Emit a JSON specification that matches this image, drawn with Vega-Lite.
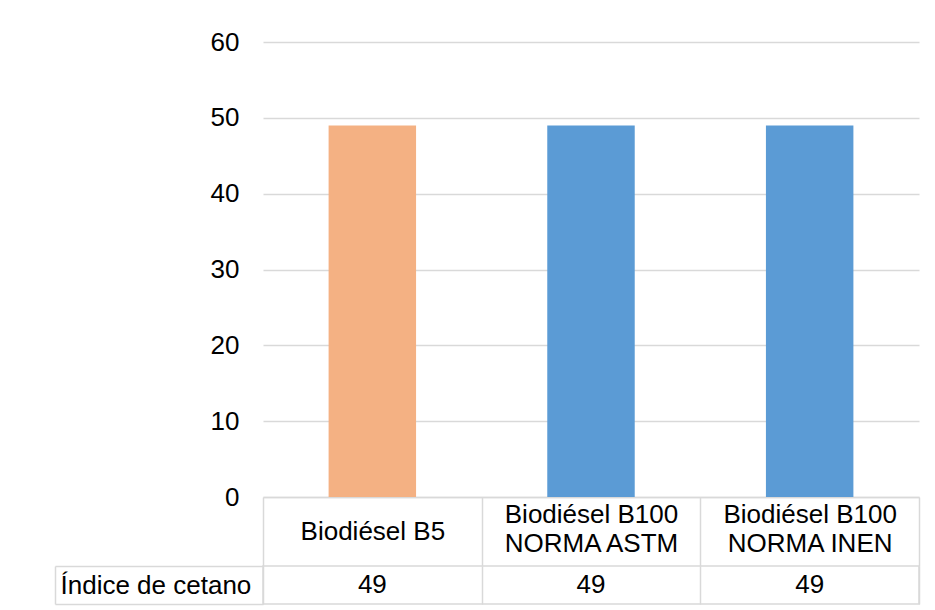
{
  "$schema": "https://vega.github.io/schema/vega-lite/v6.json",
  "background": "white",
  "padding": {"left": 53, "top": 29, "right": 5, "bottom": 5},
  "config": {"font": "Liberation Sans"},
  "datasets": {
    "d": [
      {"categoria": "Biodiésel B5", "serie": "Índice de cetano", "valor": 49, "grupo": "B5"},
      {"categoria": "Biodiésel B100|NORMA ASTM", "serie": "Índice de cetano", "valor": 49, "grupo": "B100"},
      {"categoria": "Biodiésel B100|NORMA INEN", "serie": "Índice de cetano", "valor": 49, "grupo": "B100"}
    ]
  },
  "bounds": "flush",
  "spacing": 69,
  "vconcat": [
    {
      "width": 656,
      "height": 455,
      "view": {"stroke": null},
      "data": {"name": "d"},
      "mark": {"type": "bar", "width": {"band": 0.4}},
      "encoding": {
        "x": {
          "field": "categoria", "type": "nominal", "sort": null,
          "scale": {"paddingInner": 0, "paddingOuter": 0},
          "axis": {
            "title": null, "labelAngle": 0, "labelExpr": "split(datum.label, '|')",
            "labelFontSize": 26, "labelColor": "#000000", "labelLineHeight": 29,
            "labelBaseline": "middle",
            "labelPadding": {"condition": {"test": "indexof(datum.label, '|') >= 0", "value": -52}, "value": -34.5},
            "labelLimit": 0,
            "ticks": true, "tickBand": "extent", "tickSize": 69, "tickColor": "#d9d9d9", "tickWidth": 1.5,
            "domain": true, "domainColor": "#d9d9d9", "domainWidth": 1.5
          }
        },
        "y": {
          "field": "valor", "type": "quantitative",
          "scale": {"domain": [0, 60], "nice": false},
          "axis": {
            "title": null, "values": [0, 10, 20, 30, 40, 50, 60],
            "domain": false, "ticks": false, "grid": true,
            "gridColor": "#d9d9d9", "gridWidth": 1.5,
            "labelFontSize": 26, "labelColor": "#000000", "labelPadding": 24
          }
        },
        "color": {
          "field": "grupo", "type": "nominal",
          "scale": {"domain": ["B5", "B100"], "range": ["#F4B183", "#5B9BD5"]},
          "legend": null
        }
      }
    },
    {
      "width": 656,
      "height": 38,
      "view": {"stroke": "#d9d9d9", "strokeWidth": 1.5},
      "data": {"name": "d"},
      "mark": {"type": "text", "fontSize": 26, "color": "#000000"},
      "encoding": {
        "x": {
          "field": "categoria", "type": "nominal", "sort": null,
          "scale": {"paddingInner": 0, "paddingOuter": 0},
          "axis": {
            "title": null, "labels": false, "ticks": false, "domain": false,
            "grid": true, "tickBand": "extent", "gridColor": "#d9d9d9", "gridWidth": 1.5
          }
        },
        "y": {
          "field": "serie", "type": "nominal",
          "scale": {"type": "band", "paddingInner": 0, "paddingOuter": 0},
          "axis": {
            "title": null, "orient": "left", "offset": 208,
            "domainColor": "#d9d9d9", "domainWidth": 1.5,
            "tickBand": "extent", "tickSize": -208, "tickColor": "#d9d9d9", "tickWidth": 1.5,
            "labelAlign": "left", "labelBaseline": "middle", "labelPadding": 203,
            "labelFontSize": 26, "labelColor": "#000000", "labelLimit": 0
          }
        },
        "text": {"field": "valor", "type": "quantitative"}
      }
    }
  ]
}
